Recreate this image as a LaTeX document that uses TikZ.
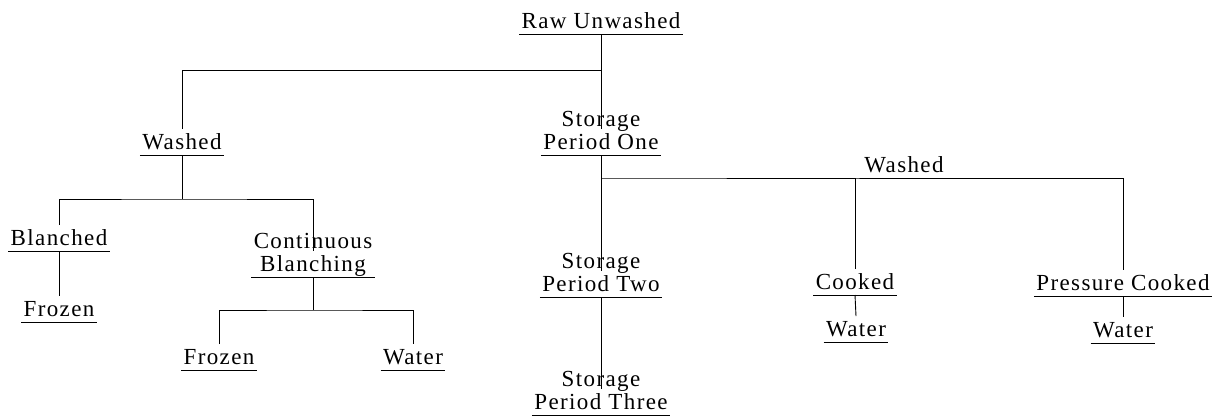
\documentclass[tikz,border=0pt]{standalone}
\usepackage{fontspec}
\setmainfont{Liberation Serif}
\newfontfamily\stagefont[LetterSpace=6]{Liberation Serif}

\tikzset{
  stagetext/.style={font=\stagefont\fontsize{23}{23}\selectfont},
  stage/.style={stagetext, align=center, anchor=south,
    inner xsep=2pt, inner ysep=0.5pt, text height=19pt, text depth=5pt,
    append after command={(\tikzlastnode.south west) edge (\tikzlastnode.south east)}},
}

\begin{document}
\begin{tikzpicture}[x=1pt, y=-1pt, line width=0.9pt]
        \useasboundingbox (0,0) rectangle (1215,416);

        % main column
        \node[stage] (raw) at (601,34) {Raw Unwashed};
        \node[stage] (sp1) at (601,155) {Storage\\Period One};
        \node[stage] (sp2) at (601,297) {Storage\\Period Two};
        \node[stage] (sp3) at (601,415) {Storage\\Period Three};

        % left branch
        \node[stage] (washL) at (182,155) {Washed};
        \node[stage] (blan) at (59,251) {Blanched};
        \node[stage] (frozL) at (59,322) {Frozen};
        \node[stage] (cont) at (313,277) {Continuous\\Blanching};
        \node[stage] (frozM) at (219,370) {Frozen};
        \node[stage] (waterM) at (413,370) {Water};

        % right branch
        \node[stagetext, anchor=base] (washR) at (904,172) {Washed};
        \node[stage] (cook) at (855,295) {Cooked};
        \node[stage] (water1) at (856,342) {Water};
        \node[stage] (press) at (1123,296) {Pressure Cooked};
        \node[stage] (water2) at (1123,343) {Water};

        \coordinate (b1) at (601,70);
        \coordinate (b2) at (182,199);
        \coordinate (b3) at (313,310);
        \coordinate (b4) at (601,178);

        \draw (raw.south) -- (sp1.north);
        \draw (b1) -| (washL.north);
        \draw (washL.south) -- (b2);
        \draw (blan.north) |- (b2) -| (cont.north);
        \draw (blan.south) -- (frozL.north);
        \draw (cont.south) -- (b3);
        \draw (frozM.north) |- (b3) -| (waterM.north);

        \draw (sp1.south) -- (sp2.north);
        \draw (sp2.south) -- (sp3.north);
        \draw (cook.north) |- (b4) -| (press.north);
        \draw (cook.south) -- (water1.north);
        \draw (press.south) -- (water2.north);
\end{tikzpicture}
\end{document}
